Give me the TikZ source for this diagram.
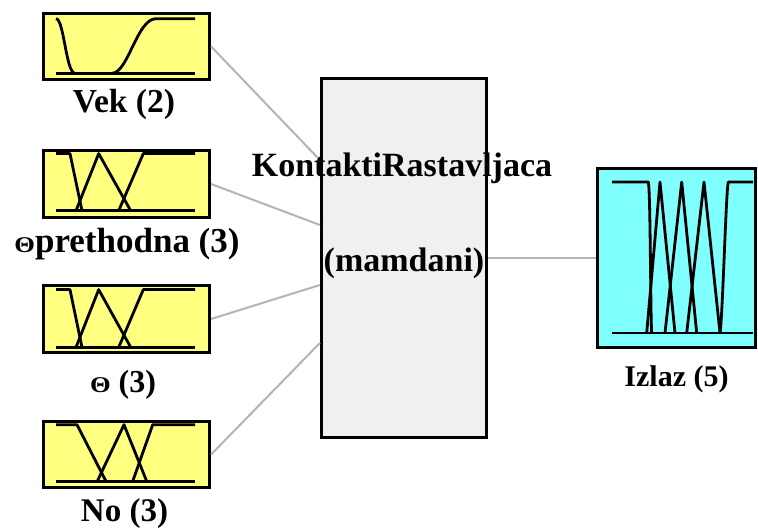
\documentclass[tikz,border=0pt]{standalone}
\usepackage{fontspec}
\setmainfont{Liberation Serif}
\begin{document}
\begin{tikzpicture}[x=1pt,y=-1pt,
  inbox/.style={draw=black,line width=2.7pt,fill=inyellow,minimum width=166.5pt,minimum height=66.5pt,inner sep=0pt},
  mf/.style={line width=2.8pt,line join=round},
  conn/.style={draw=conngray,line width=2pt},
  lab/.style={font=\bfseries\fontsize{32}{36}\selectfont,inner sep=0pt,anchor=base},
  ctext/.style={font=\bfseries\fontsize{34}{40}\selectfont,inner sep=0pt,anchor=base}]
\definecolor{inyellow}{HTML}{FFFF80}
\definecolor{outcyan}{HTML}{80FFFF}
\definecolor{fisgray}{HTML}{F0F0F0}
\definecolor{conngray}{HTML}{B4B4B4}
\useasboundingbox[fill=white] (0,0) rectangle (758,529);
\newcommand{\thsym}{\scalebox{1.18}[1]{\fontsize{22.5}{22.5}\selectfont Θ}}

% boxes
\node[inbox] (vek) at (126.5,46.5) {};
\node[inbox] (pre) at (126.5,184) {};
\node[inbox] (th) at (126.5,319) {};
\node[inbox] (no) at (126.5,454.5) {};
\node[draw=black,line width=2.7pt,fill=fisgray,minimum width=165.5pt,minimum height=359.5pt,inner sep=0pt] (fis) at (404,258) {};
\node[draw=black,line width=2.7pt,fill=outcyan,minimum width=157.5pt,minimum height=179.5pt,inner sep=0pt] (out) at (676.5,258) {};

% connectors
\draw[conn] (vek.east) -- ([yshift=98pt]fis.west);
\draw[conn] (pre.east) -- ([yshift=33pt]fis.west);
\draw[conn] (th.east) -- ([yshift=-27pt]fis.west);
\draw[conn] (no.east) -- ([yshift=-85pt]fis.west);
\draw[conn] (fis.east) -- (out.west);

% Vek MFs
\begin{scope}[shift={(0,12)}]
\draw[mf] (56,61.3) -- (195,61.3);
\draw[mf] (56,6.7) .. controls (64,6.7) and (66,61.3) .. (75,61.3);
\draw[mf] (112,61.3) .. controls (128,61.3) and (137,6.7) .. (156,6.7) -- (195,6.7);
\end{scope}
% prethodna MFs
\begin{scope}[shift={(0,149)}]
\draw[mf] (56,61.7) -- (195,61.7);
\draw[mf] (56,4.6) -- (70,4.6) -- (82,61.7);
\draw[mf] (76,61.7) -- (98.7,4.6) -- (130.7,61.7);
\draw[mf] (118.7,61.7) -- (143.3,4.6) -- (195,4.6);
\end{scope}
% theta MFs
\begin{scope}[shift={(0,285)}]
\draw[mf] (56,62.3) -- (195,62.3);
\draw[mf] (56,4.6) -- (70,4.6) -- (82,62.3);
\draw[mf] (76,62.3) -- (98.7,4.6) -- (130.7,62.3);
\draw[mf] (118.7,62.3) -- (143.3,4.6) -- (195,4.6);
\end{scope}
% No MFs
\begin{scope}[shift={(0,420)}]
\draw[mf] (56,61.3) -- (195,61.3);
\draw[mf] (56,4.7) -- (77,4.7) -- (106,61.3);
\draw[mf] (97.3,61.3) -- (124,4.7) -- (146.7,61.3);
\draw[mf] (132.7,61.3) -- (152.7,4.7) -- (195,4.7);
\end{scope}
% Output MFs
\draw[mf] (612,333) -- (753,333);
\draw[mf] (612,182) -- (648.3,182) .. controls (650.5,190) and (650.5,320) .. (651.7,333);
\draw[mf] (646.7,333) -- (660,182) -- (675,333);
\draw[mf] (665,333) -- (681.7,182) -- (696.7,333);
\draw[mf] (686.7,333) -- (704,182) -- (720,333);
\draw[mf] (720,333) .. controls (722.5,320) and (726,190) .. (728.3,182) -- (753,182);

% labels
\node[lab,font=\bfseries\fontsize{33.5}{36}\selectfont] (vekl) at (124,113) {Vek (2)};
\node[lab,font=\bfseries\fontsize{35}{36}\selectfont] (prel) at (127,253) {\thsym prethodna (3)};
\node[lab] (thl) at (123,392) {\thsym{} (3)};
\node[lab,font=\bfseries\fontsize{33}{36}\selectfont] (nol) at (124.5,521) {No (3)};
\node[lab,font=\bfseries\fontsize{30}{36}\selectfont] (outl) at (676.5,387) {Izlaz (5)};
\node[ctext] (fist1) at (402,177) {KontaktiRastavljaca};
\node[ctext] (fist2) at (404,272) {(mamdani)};
\end{tikzpicture}
\end{document}
